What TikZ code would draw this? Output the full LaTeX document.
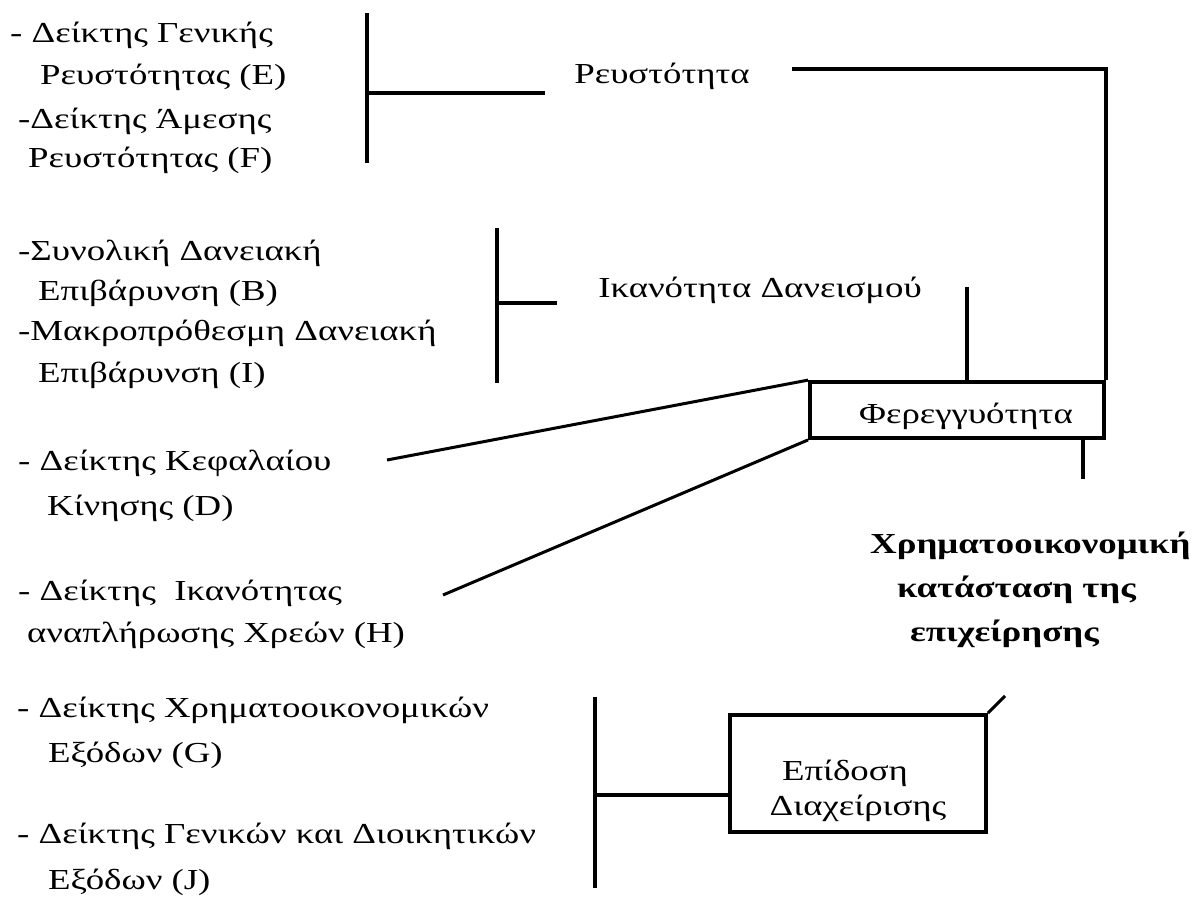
\documentclass[tikz,border=0pt]{standalone}
\usepackage{fontspec}
\setmainfont{Liberation Serif}[FakeStretch=1.27]
\begin{document}
\begin{tikzpicture}[x=1pt,y=-1pt,
  lbl/.style={anchor=base west,inner sep=0pt,font=\fontsize{29}{44}\selectfont},
  cat/.style={anchor=base,inner sep=0pt,font=\fontsize{29}{44}\selectfont},
  thick line/.style={line width=3.8pt},
  conn/.style={line width=3pt},
  box/.style={draw,line width=3.8pt,inner sep=0pt}]
\useasboundingbox (0,0) rectangle (1198,908);
% left labels
\node[lbl] (e1) at (10,42) {- Δείκτης Γενικής};
\node[lbl] (e2) at (40,84) {Ρευστότητας (E)};
\node[lbl] (f1) at (18,128) {-Δείκτης Άμεσης};
\node[lbl] (f2) at (28,167) {Ρευστότητας (F)};
\node[lbl] (b1) at (18,260) {-Συνολική Δανειακή};
\node[lbl] (b2) at (38,300) {Επιβάρυνση (B)};
\node[lbl] (i1) at (18,340) {-Μακροπρόθεσμη Δανειακή};
\node[lbl] (i2) at (38,382) {Επιβάρυνση (I)};
\node[lbl] (d1) at (18,470) {- Δείκτης Κεφαλαίου};
\node[lbl] (d2) at (47,515) {Κίνησης (D)};
\node[lbl] (h1) at (18,600) {- Δείκτης\ \ Ικανότητας};
\node[lbl] (h2) at (27,642) {αναπλήρωσης Χρεών (H)};
\node[lbl] (g1) at (17,717) {- Δείκτης Χρηματοοικονομικών};
\node[lbl] (g2) at (48,762) {Εξόδων (G)};
\node[lbl] (j1) at (17,843) {- Δείκτης Γενικών και Διοικητικών};
\node[lbl] (j2) at (48,889) {Εξόδων (J)};
% category labels
\node[cat] (reu) at (662,83) {Ρευστότητα};
\node[cat] (ika) at (760,297) {Ικανότητα Δανεισμού};
\node[box,minimum width=294pt,minimum height=56pt] (fer) at (957,410) {};
\node[cat] (fert) at (966,423) {Φερεγγυότητα};
\node[box,minimum width=256pt,minimum height=117pt] (epi) at (858,773.5) {};
\node[cat] (epi1) at (845,780) {Επίδοση};
\node[cat] (epi2) at (858,815) {Διαχείρισης};
\node[anchor=base west,inner sep=0pt,align=left,font=\fontsize{29}{44}\selectfont\bfseries] (fin) at (870,641)
  {Χρηματοοικονομική\\\hspace*{27pt}κατάσταση της\\\hspace*{40pt}επιχείρησης};
% bars and free ends
\coordinate (r1t) at (367,13); \coordinate (r1b) at (367,163);
\coordinate (r1m) at (367,93); \coordinate (r1e) at (545,93);
\coordinate (r2t) at (497,228); \coordinate (r2b) at (497,383);
\coordinate (r2m) at (497,303); \coordinate (r2e) at (557,303);
\coordinate (r3t) at (595,697); \coordinate (r3b) at (595,888);
\coordinate (r3m) at (595,795);
\coordinate (reuE) at (792,69);
\coordinate (ikaT) at (967,287);
\coordinate (ferB) at (1083,479);
\coordinate (dS) at (387,460); \coordinate (hS) at (443,595);
\coordinate (epiT) at (1005,696);
\draw[thick line] (r1t) -- (r1b);
\draw[thick line] (r1m) -- (r1e);
\draw[thick line] (r2t) -- (r2b);
\draw[thick line] (r2m) -- (r2e);
\draw[thick line] (r3t) -- (r3b);
\draw[thick line] (r3m) -- (r3m -| epi.west);
\draw[thick line] (reuE) -- (reuE -| fer.north east) -- (fer.north east);
\draw[thick line] (ikaT) -- (ikaT |- fer.north);
\draw[thick line] (ferB |- fer.south) -- (ferB);
\draw[conn] (dS) -- (fer.north west);
\draw[conn] (hS) -- (fer.south west);
\draw[conn] (epi.north east) -- (epiT);
\end{tikzpicture}
\end{document}
